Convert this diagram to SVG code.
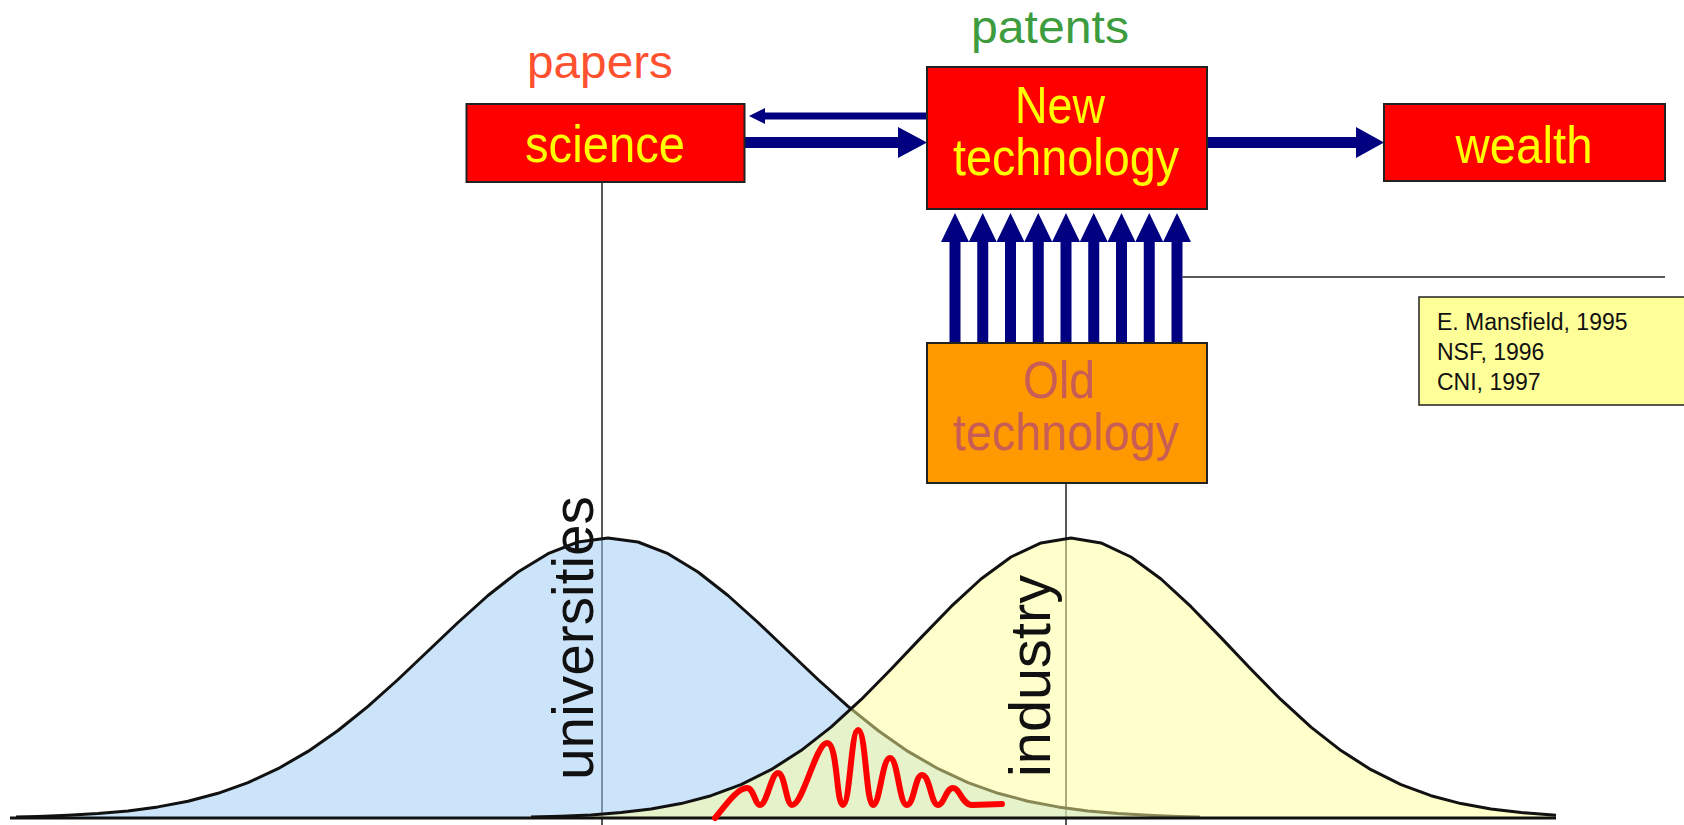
<svg xmlns="http://www.w3.org/2000/svg" xmlns:xlink="http://www.w3.org/1999/xlink" width="1684" height="825" viewBox="0 0 1684 825">
<style>
  .box { fill: #ff0000; stroke: #222; stroke-width: 2; }
  .old { fill: #ff9900; stroke: #222; stroke-width: 2; }
  .note { fill: #ffff99; stroke: #222; stroke-width: 1.5; }
  .bt { font-family: "Liberation Sans", Arial, sans-serif; font-size: 52px; fill: #ffff00; text-anchor: middle; }
  .ot { font-family: "Liberation Sans", Arial, sans-serif; font-size: 52px; fill: #c75d55; text-anchor: middle; }
  .lbl { font-family: "Liberation Sans", Arial, sans-serif; font-size: 47px; text-anchor: middle; }
  .nt { font-family: "Liberation Sans", Arial, sans-serif; font-size: 23px; fill: #111; }
  .vt { font-family: "Liberation Sans", Arial, sans-serif; font-size: 58px; fill: #111; }
  .arr { fill: #000080; }
  .thin { stroke: #222; stroke-width: 1.5; fill: none; }
  .curve { stroke: #111; stroke-width: 3; fill: none; stroke-linejoin: round; }
</style>
<defs>
  <path id="uparrow" d="M-5.5,343 L-5.5,242 L-14,242 L0,213 L14,242 L5.5,242 L5.5,343 Z"/>
</defs>
<rect width="1684" height="825" fill="#ffffff"/>

<!-- guide lines -->
<g id="guides">
  <line class="thin" x1="602" y1="182" x2="602" y2="825"/>
  <line class="thin" x1="1066" y1="483" x2="1066" y2="825"/>
</g>

<!-- distributions -->
<g id="universities-curve">
  <path fill="#99c9f5" fill-opacity="0.5" d="M10,818 L16,817 L38,816.4 L68,815.3 L98,813.6 L128,810.9 L158,806.9 L188,801.2 L218,793.3 L248,782.6 L278,768.7 L308,751.4 L338,730.5 L368,706.3 L398,679.5 L428,651 L458,622.5 L488,595.5 L518,572 L548,553.7 L578,542 L608,538 L638,542 L668,553.7 L698,572 L728,595.5 L758,622.5 L788,651 L818,679.5 L848,706.3 L878,730.5 L908,751.4 L938,768.7 L968,782.6 L998,793.3 L1028,801.2 L1058,806.9 L1088,810.9 L1118,813.6 L1148,815.3 L1178,816.4 L1200,817 L1200,818 Z"/>
  <path class="curve" d="M16,817 L38,816.4 L68,815.3 L98,813.6 L128,810.9 L158,806.9 L188,801.2 L218,793.3 L248,782.6 L278,768.7 L308,751.4 L338,730.5 L368,706.3 L398,679.5 L428,651 L458,622.5 L488,595.5 L518,572 L548,553.7 L578,542 L608,538 L638,542 L668,553.7 L698,572 L728,595.5 L758,622.5 L788,651 L818,679.5 L848,706.3 L878,730.5 L908,751.4 L938,768.7 L968,782.6 L998,793.3 L1028,801.2 L1058,806.9 L1088,810.9 L1118,813.6 L1148,815.3 L1178,816.4 L1200,817"/>
</g>
<g id="industry-curve">
  <path fill="#ffff99" fill-opacity="0.5" d="M531,818 L531,817.1 L561,816.3 L591,814.9 L621,812.6 L651,809.1 L681,803.6 L711,795.7 L741,784.6 L771,769.7 L801,750.6 L831,727.1 L861,699.7 L891,669.3 L921,637.6 L951,606.7 L981,579 L1011,557 L1041,542.9 L1071,538 L1101,542.9 L1131,557 L1161,579 L1191,606.7 L1221,637.6 L1251,669.3 L1281,699.7 L1311,727.1 L1341,750.6 L1371,769.7 L1401,784.6 L1431,795.7 L1461,803.6 L1491,809.1 L1521,812.6 L1556,815.3 L1556,818 Z"/>
  <path class="curve" d="M531,817.1 L561,816.3 L591,814.9 L621,812.6 L651,809.1 L681,803.6 L711,795.7 L741,784.6 L771,769.7 L801,750.6 L831,727.1 L861,699.7 L891,669.3 L921,637.6 L951,606.7 L981,579 L1011,557 L1041,542.9 L1071,538 L1101,542.9 L1131,557 L1161,579 L1191,606.7 L1221,637.6 L1251,669.3 L1281,699.7 L1311,727.1 L1341,750.6 L1371,769.7 L1401,784.6 L1431,795.7 L1461,803.6 L1491,809.1 L1521,812.6 L1556,815.3"/>
</g>
<line id="baseline" x1="10" y1="818" x2="1556" y2="818" stroke="#111" stroke-width="3"/>

<g id="wave">
  <path fill="none" stroke="#ff0000" stroke-width="6" stroke-linecap="round" stroke-linejoin="round" d="M715,818 C728,802 738,788 747,788 C754,788 755,805 760,805 C767,805 771,773 778,773 C785,773 786,805 792,805 C803,805 816,743 827,743 C838,743 836,805 843,805 C850,805 851,730 858,730 C866,730 866,805 873,805 C880,805 882,758 890,758 C898,758 899,805 907,805 C914,805 915,775 922,775 C930,775 931,805 938,805 C944,805 946,788 953,788 C960,788 962,805 972,805 L1002,804"/>
</g>

<g id="label-universities">
  <text class="vt" transform="translate(593,780) rotate(-90)" textLength="284" lengthAdjust="spacingAndGlyphs">universities</text>
</g>
<g id="label-industry">
  <text class="vt" transform="translate(1050,777) rotate(-90)" textLength="202" lengthAdjust="spacingAndGlyphs">industry</text>
</g>

<!-- connectors -->
<g id="connectors">
  <path class="arr" d="M927,112.5 L765,112.5 L765,108 L749,116 L765,124 L765,119.5 L927,119.5 Z"/>
  <path class="arr" d="M745,137 L898,137 L898,127 L927,142.5 L898,158 L898,148 L745,148 Z"/>
  <path class="arr" d="M1207,137 L1356,137 L1356,127 L1384,142.5 L1356,158 L1356,148 L1207,148 Z"/>
  <use href="#uparrow" xlink:href="#uparrow" x="955" class="arr"/>
  <use href="#uparrow" xlink:href="#uparrow" x="982.75" class="arr"/>
  <use href="#uparrow" xlink:href="#uparrow" x="1010.5" class="arr"/>
  <use href="#uparrow" xlink:href="#uparrow" x="1038.25" class="arr"/>
  <use href="#uparrow" xlink:href="#uparrow" x="1066" class="arr"/>
  <use href="#uparrow" xlink:href="#uparrow" x="1093.75" class="arr"/>
  <use href="#uparrow" xlink:href="#uparrow" x="1121.5" class="arr"/>
  <use href="#uparrow" xlink:href="#uparrow" x="1149.25" class="arr"/>
  <use href="#uparrow" xlink:href="#uparrow" x="1177" class="arr"/>
  <line class="thin" x1="1182.5" y1="277" x2="1665" y2="277"/>
</g>

<!-- nodes -->
<g id="papers">
  <text class="lbl" x="600" y="78" fill="#ff5030" textLength="146" lengthAdjust="spacingAndGlyphs">papers</text>
</g>
<g id="patents">
  <text class="lbl" x="1050" y="43" fill="#3d9c3d" textLength="158" lengthAdjust="spacingAndGlyphs">patents</text>
</g>
<g id="science">
  <rect class="box" x="466.5" y="104" width="278" height="78"/>
  <text class="bt" x="605" y="162" textLength="160" lengthAdjust="spacingAndGlyphs">science</text>
</g>
<g id="new-technology">
  <rect class="box" x="927" y="67" width="280" height="142"/>
  <text class="bt" x="1060" y="123" textLength="90" lengthAdjust="spacingAndGlyphs">New</text>
  <text class="bt" x="1066" y="175" textLength="226" lengthAdjust="spacingAndGlyphs">technology</text>
</g>
<g id="wealth">
  <rect class="box" x="1384" y="104" width="281" height="77"/>
  <text class="bt" x="1524" y="163" textLength="137" lengthAdjust="spacingAndGlyphs">wealth</text>
</g>
<g id="old-technology">
  <rect class="old" x="927" y="343" width="280" height="140"/>
  <text class="ot" x="1059" y="398" textLength="72" lengthAdjust="spacingAndGlyphs">Old</text>
  <text class="ot" x="1066" y="450" textLength="226" lengthAdjust="spacingAndGlyphs">technology</text>
</g>
<g id="references">
  <rect class="note" x="1419" y="297" width="280" height="108"/>
  <text class="nt" x="1437" y="330">E. Mansfield, 1995</text>
  <text class="nt" x="1437" y="360">NSF, 1996</text>
  <text class="nt" x="1437" y="390">CNI, 1997</text>
</g>
</svg>
